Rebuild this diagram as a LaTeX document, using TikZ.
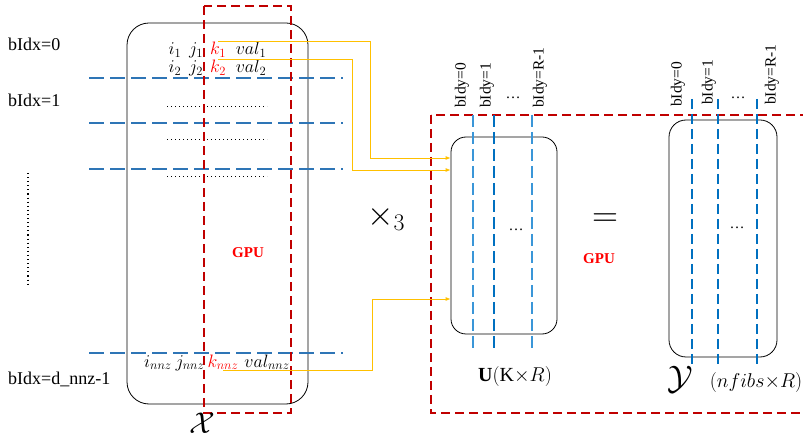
\RequirePackage{fix-cm}
\documentclass[tikz,border=0pt]{standalone}
\usepackage{amsmath}
\usepackage{fontspec}
\setmainfont{Liberation Serif}
\usetikzlibrary{arrows.meta,calc}
\definecolor{DashRed}{HTML}{C00000}
\definecolor{KeyRed}{HTML}{FF0000}
\definecolor{RowBlue}{HTML}{2E75B6}
\definecolor{ColBlue}{HTML}{3A96D8}
\definecolor{DeepBlue}{HTML}{0070C0}
\definecolor{Amber}{HTML}{FFC000}
\newcommand{\fsz}[1]{\fontsize{#1}{#1}\selectfont}

\begin{document}
\begin{tikzpicture}[x=1pt,y=-1pt,>=Latex,
    lbl/.style={inner sep=0pt,anchor=west,font=\fsz{18}},
    collbl/.style={rotate=90,anchor=west,inner sep=0pt,font=\fsz{15.5}},
    entry/.style={anchor=base,inner sep=1pt,font=\fsz{18}},
    gpu/.style={font=\fsz{15}\bfseries,text=KeyRed},
    reddash/.style={DashRed,line width=1.6pt,dash pattern=on 9pt off 5pt},
    rowline/.style={RowBlue,line width=1.5pt,dash pattern=on 15pt off 6pt},
    feed/.style={Amber,line width=0.8pt,-{Latex[length=5pt,width=4pt]}},
    matbox/.style={draw,line width=0.8pt,rounded corners=15pt,inner sep=0pt}]
    \useasboundingbox (0,0) rectangle (803,443);

    % sparse tensor X, one thread block per row band
    \node[matbox,rounded corners=22pt,minimum width=181pt,minimum height=381pt] (Xbox) at (217.5,213.5) {};
    \foreach \y in {78,123,169,353} {
      \draw[rowline] (89,\y) -- (343,\y);
    }
    \foreach \y in {106,139,176} {
      \draw[line width=0.6pt,dash pattern=on 0.8pt off 3.2pt] (167,\y) -- (267,\y);
    }
    \draw[reddash] (204,6) rectangle (291,413);

    \node[lbl] (bx0) at (8,44) {bIdx=0};
    \node[lbl] (bx1) at (8,100) {bIdx=1};
    \node[lbl] (bxn) at (8,379) {bIdx=d\_nnz-1};
    \draw[line width=1.1pt,dash pattern=on 1.1pt off 3pt] (28,173) -- (28,285);

    \foreach \r/\y in {1/55,2/73} {
      \node[entry] (i\r) at (175,\y) {$i_{\r}$};
      \node[entry] (j\r) at (196,\y) {$j_{\r}$};
      \node[entry,text=KeyRed] (k\r) at (218,\y) {$k_{\r}$};
      \node[entry] (v\r) at (251,\y) {$val_{\r}$};
    }
    \node[entry] (innz) at (158,367) {$i_{nnz}$};
    \node[entry] (jnnz) at (190,367) {$j_{nnz}$};
    \node[entry,text=KeyRed] (knnz) at (223,367) {$k_{nnz}$};
    \node[entry] (vnnz) at (267,367) {$val_{nnz}$};

    \node[gpu] (gpuL) at (248,253) {GPU};
    \node[font=\fsz{30}] (Xlbl) at (202,423) {$\mathcal{X}$};
    \node[font=\fsz{34}] (mode) at (386,218) {$\times_3$};

    % factor matrix U and output Y on the device
    \draw[reddash] (431,115) rectangle (812,413);
    \node[gpu] (gpuR) at (599,259) {GPU};
    \node[font=\fsz{36}] (eq) at (605,220) {$=$};

    \node[matbox,minimum width=106pt,minimum height=197pt] (U) at (504,235.5) {};
    \foreach \x/\w/\c in {473/2.6/ColBlue,494/1.8/DeepBlue,532/2.6/ColBlue} {
      \draw[\c,line width=\w pt,dash pattern=on 12pt off 5pt] (\x,115) -- (\x,348);
    }
    \node[font=\fsz{15}] (udots) at (516,230) {\dots};
    \node[collbl] (uc0) at (462,108) {bIdy=0};
    \node[collbl] (uc1) at (487,108) {bIdy=1};
    \node[font=\fsz{15}] (ucdots) at (513,98) {\dots};
    \node[collbl] (ucr) at (540,108) {bIdy=R-1};
    \node[font=\fsz{20}] (Ulbl) at (515,377) {$\mathbf{U}(\text{K}{\times}R)$};

    \node[matbox,rounded corners=17pt,minimum width=108pt,minimum height=237pt] (Y) at (723,238.5) {};
    \foreach \x in {692,718,757} {
      \draw[DeepBlue,line width=1.4pt,dash pattern=on 10pt off 5pt] (\x,99) -- (\x,368);
    }
    \node[font=\fsz{15}] (ydots) at (737,228) {\dots};
    \node[collbl] (yc0) at (678,107) {bIdy=0};
    \node[collbl] (yc1) at (709,105) {bIdy=1};
    \node[font=\fsz{15}] (ycdots) at (738,98) {\dots};
    \node[collbl] (ycr) at (772,105) {bIdy=R-1};
    \node[font=\fsz{34}] (Ylbl) at (680,380) {$\mathcal{Y}$};
    \node[font=\fsz{20}] (Ydim) at (756,383) {$(nfibs{\times}R)$};

    % k indices select rows of U
    \coordinate (u1) at (U.west |- 0,158);
    \coordinate (u2) at (U.west |- 0,170);
    \coordinate (u3) at (U.west |- 0,299);
    \coordinate (c1) at (370,158);
    \coordinate (c2) at (352,170);
    \coordinate (c3) at (372,299);
    \draw[feed] (k1.north) -| (c1) -- (u1);
    \draw[feed] (k2.north) -| (c2) -- (u2);
    \draw[feed] (knnz.south) -| (c3) -- (u3);
\end{tikzpicture}
\end{document}
